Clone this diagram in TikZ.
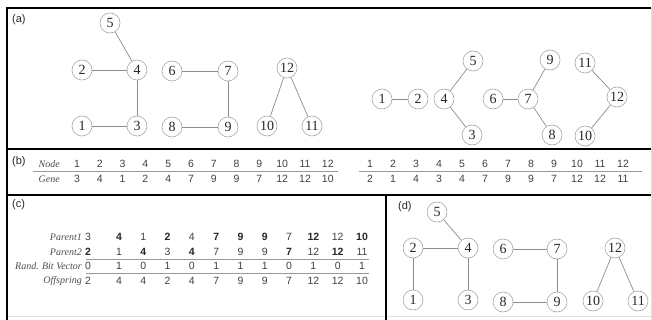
\documentclass[tikz,border=0pt]{standalone}
\usepackage{fontspec}
\setmainfont{Liberation Serif}
\setsansfont{Liberation Sans}
\begin{document}
\begin{tikzpicture}[x=1pt,y=-1pt,
  vert/.style={circle,draw=black!35,line width=0.6pt,minimum size=20pt,inner sep=0pt,font=\fontsize{14}{14}\selectfont,text=black!85},
  edge/.style={draw=black!45,line width=0.7pt},
  frame/.style={line width=2.8pt,black},
  num/.style={font=\sffamily\fontsize{10.5}{10.5}\selectfont,text=black!75,inner sep=0pt},
  bnum/.style={font=\sffamily\bfseries\fontsize{10.5}{10.5}\selectfont,text=black!85,inner sep=0pt},
  lab/.style={font=\itshape\fontsize{10}{10}\selectfont,text=black!70,anchor=east,inner sep=0pt},
  plab/.style={font=\sffamily\fontsize{11}{11}\selectfont,anchor=west,inner sep=0pt,text=black!85},
  rule/.style={draw=black!40,line width=0.6pt}]
\useasboundingbox (0,0) rectangle (652,320);
% frames
\draw[black!12,line width=0.6pt] (651,8) -- (651,320);
\draw[black!12,line width=0.6pt] (7,316) -- (651,316);
\draw[frame] (7,8) -- (651,8);
\draw[frame] (7,6.6) -- (7,320);
\draw[frame] (7,149) -- (651,149);
\draw[frame] (7,195) -- (651,195);
\draw[frame] (386,195) -- (386,320);
% panel labels
\node[plab] (la) at (12,20) {(a)};
\node[plab] (lb) at (12,162) {(b)};
\node[plab] (lc) at (12,205) {(c)};
\node[plab] (ld) at (398,207) {(d)};
% (a) left graph
\node[vert] (a5) at (110,23) {5};
\node[vert] (a2) at (82,70) {2};
\node[vert] (a4) at (137,70) {4};
\node[vert] (a6) at (172,71) {6};
\node[vert] (a7) at (228,71) {7};
\node[vert] (a12) at (287,68) {12};
\node[vert] (a1) at (82,126) {1};
\node[vert] (a3) at (137,126) {3};
\node[vert] (a8) at (172,127) {8};
\node[vert] (a9) at (228,127) {9};
\node[vert] (a10) at (267,126) {10};
\node[vert] (a11) at (312,126) {11};
\draw[edge] (a5) -- (a4);
\draw[edge] (a2) -- (a4);
\draw[edge] (a4) -- (a3);
\draw[edge] (a1) -- (a3);
\draw[edge] (a6) -- (a7);
\draw[edge] (a7) -- (a9);
\draw[edge] (a8) -- (a9);
\draw[edge] (a12) -- (a10);
\draw[edge] (a12) -- (a11);
% (a) right graph
\node[vert] (b1) at (382,99) {1};
\node[vert] (b2) at (418,99) {2};
\node[vert] (b4) at (444,99) {4};
\node[vert] (b5) at (473,61) {5};
\node[vert] (b3) at (472,135) {3};
\node[vert] (b6) at (493,99) {6};
\node[vert] (b7) at (528,99) {7};
\node[vert] (b9) at (550,60) {9};
\node[vert] (b8) at (552,135) {8};
\node[vert] (b11) at (585,63) {11};
\node[vert] (b12) at (617,97) {12};
\node[vert] (b10) at (585,136) {10};
\draw[edge] (b1) -- (b2);
\draw[edge] (b4) -- (b5);
\draw[edge] (b4) -- (b3);
\draw[edge] (b6) -- (b7);
\draw[edge] (b7) -- (b9);
\draw[edge] (b7) -- (b8);
\draw[edge] (b11) -- (b12);
\draw[edge] (b12) -- (b10);
% (b) tables
\node[lab] (nodelab) at (60,164) {Node};
\node[lab] (genelab) at (60,179) {Gene};
\coordinate (r1s) at (33,171);
\coordinate (r1e) at (338,171);
\coordinate (r2s) at (359,171);
\coordinate (r2e) at (642,171);
\draw[rule] (r1s) -- (r1e);
\draw[rule] (r2s) -- (r2e);
\foreach \g [count=\i] in {3,4,1,2,4,7,9,9,7,12,12,10} {
  \node[num] (tn\i) at ({77+22.8*(\i-1)},164) {\i};
  \node[num] (tg\i) at ({77+22.8*(\i-1)},179) {\g};
}
\foreach \g [count=\i] in {2,1,4,3,4,7,9,9,7,12,12,11} {
  \node[num] (un\i) at ({370+23*(\i-1)},164) {\i};
  \node[num] (ug\i) at ({370+23*(\i-1)},179) {\g};
}
% (c) crossover table
\node[lab] (p1lab) at (82,237) {Parent1};
\node[lab] (p2lab) at (82,252) {Parent2};
\node[lab] (rblab) at (82,266) {Rand. Bit Vector};
\node[lab] (oflab) at (82,281) {Offspring};
\coordinate (c1s) at (86,259);
\coordinate (c1e) at (369,259);
\coordinate (c2s) at (86,273);
\coordinate (c2e) at (369,273);
\draw[rule] (c1s) -- (c1e);
\draw[rule] (c2s) -- (c2e);
\foreach \pa/\pb/\r/\o [count=\i] in {3/2/0/2,4/1/1/4,1/4/0/4,2/3/1/2,4/4/0/4,7/7/1/7,9/9/1/9,9/9/1/9,7/7/0/7,12/12/1/12,12/12/0/12,10/11/1/10} {
  \pgfmathsetmacro{\xx}{ifthenelse(\i==1,88,119+24.3*(\i-2))}
  \ifnum\r=1
    \node[bnum] (cp\i) at (\xx,237) {\pa};
    \node[num] (cq\i) at (\xx,252) {\pb};
  \else
    \node[num] (cp\i) at (\xx,237) {\pa};
    \node[bnum] (cq\i) at (\xx,252) {\pb};
  \fi
  \node[num] (cr\i) at (\xx,266) {\r};
  \node[num] (co\i) at (\xx,281) {\o};
}
% (d) offspring graph
\node[vert] (d5) at (437,212) {5};
\node[vert] (d2) at (413,248) {2};
\node[vert] (d4) at (468,248) {4};
\node[vert] (d6) at (503,249) {6};
\node[vert] (d7) at (557,249) {7};
\node[vert] (d12) at (615,248) {12};
\node[vert] (d1) at (413,300) {1};
\node[vert] (d3) at (468,300) {3};
\node[vert] (d8) at (503,302) {8};
\node[vert] (d9) at (557,302) {9};
\node[vert] (d10) at (593,301) {10};
\node[vert] (d11) at (638,301) {11};
\draw[edge] (d5) -- (d4);
\draw[edge] (d2) -- (d4);
\draw[edge] (d2) -- (d1);
\draw[edge] (d4) -- (d3);
\draw[edge] (d6) -- (d7);
\draw[edge] (d7) -- (d9);
\draw[edge] (d8) -- (d9);
\draw[edge] (d12) -- (d10);
\draw[edge] (d12) -- (d11);
\end{tikzpicture}
\end{document}
